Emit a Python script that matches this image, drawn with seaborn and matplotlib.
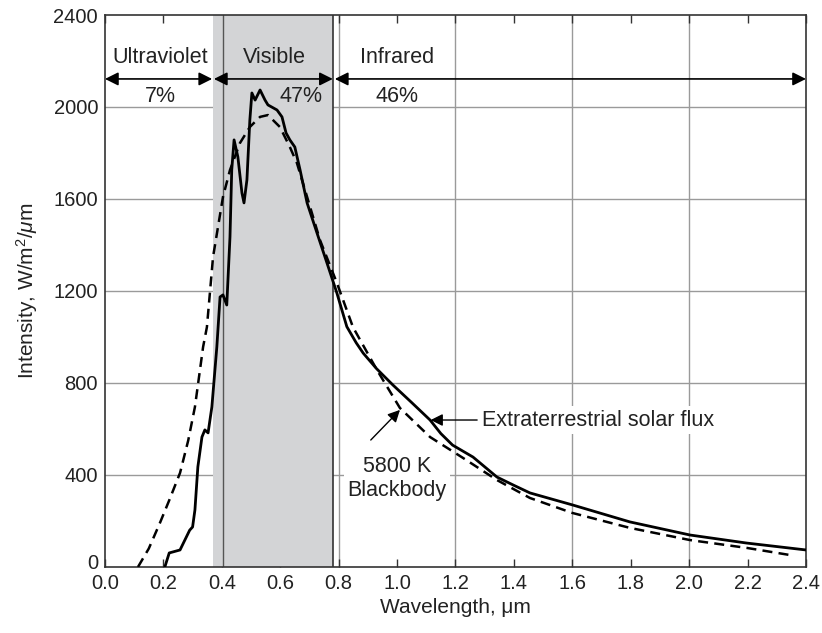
import numpy as np
import pandas as pd
import seaborn as sns
import matplotlib.pyplot as plt
import matplotlib.transforms as mtransforms

# extraterrestrial solar flux
solar_wl = [0.205, 0.22, 0.257, 0.29, 0.30, 0.308, 0.318, 0.332, 0.342, 0.353, 0.366,
            0.383, 0.394, 0.404, 0.417, 0.428, 0.434, 0.442, 0.455, 0.469, 0.476, 0.486,
            0.496, 0.503, 0.514, 0.531, 0.548, 0.558, 0.589, 0.606, 0.62, 0.633, 0.65,
            0.668, 0.692, 0.726, 0.76, 0.794, 0.828, 0.86, 0.884, 0.93, 0.986, 1.05, 1.113,
            1.15, 1.19, 1.26, 1.342, 1.40, 1.455, 1.60, 1.797, 2.003, 2.197, 2.40]
solar_flux = [0, 61, 74, 160, 174, 248, 435, 565, 596, 583, 696,
              957, 1174, 1183, 1139, 1435, 1726, 1857, 1783, 1626, 1583, 1683,
              1943, 2061, 2030, 2074, 2030, 2009, 1987, 1957, 1887, 1857, 1826,
              1726, 1583, 1452, 1322, 1191, 1045, 975, 930, 862, 791, 715, 639,
              580, 530, 478, 391, 355, 322, 270, 196, 139, 104, 74]

# 5800 K blackbody
bb_wl = [0.113, 0.15, 0.188, 0.22, 0.257, 0.285, 0.308, 0.336, 0.349, 0.37, 0.404,
         0.428, 0.462, 0.496, 0.531, 0.558, 0.599, 0.633, 0.657, 0.692, 0.736, 0.794,
         0.849, 0.931, 1.01, 1.113, 1.226, 1.342, 1.455, 1.60, 1.797, 2.003, 2.197, 2.345]
bb_flux = [0, 80, 191, 290, 409, 550, 696, 957, 1043, 1348, 1609,
           1726, 1843, 1913, 1957, 1965, 1913, 1826, 1757, 1609, 1422, 1235,
           1043, 857, 691, 565, 474, 378, 300, 235, 170, 117, 83, 52]

# spectral regions
region_names = ['Ultraviolet', 'Visible', 'Infrared']
region_share = ['7%', '47%', '46%']
region_start = [0.0, 0.373, 0.787]
region_end = [0.367, 0.78, 2.4]

solar = pd.DataFrame({'Wavelength': solar_wl, 'Intensity': solar_flux})
bb = pd.DataFrame({'Wavelength': bb_wl, 'Intensity': bb_flux})

sns.set_theme(style="white")
plt.rcParams['font.family'] = ['Liberation Sans', 'DejaVu Sans']
plt.rcParams['mathtext.fontset'] = 'custom'
plt.rcParams['mathtext.rm'] = 'Liberation Sans'
plt.rcParams['mathtext.it'] = 'Liberation Sans:italic'

fig = plt.figure(figsize=(8.22, 6.33), dpi=100)
ax = fig.add_axes([0.1277, 0.1043, 0.8528, 0.872])

# grid
for xv in [0.4, 0.8, 1.2, 1.6, 2.0]:
    ax.axvline(xv, color='#9a9a9a', lw=1.0, zorder=0)
for yv in [400, 800, 1200, 1600, 2000]:
    ax.axhline(yv, color='#9a9a9a', lw=1.0, zorder=0)

# visible band
ax.axvspan(0.37, 0.78, color='#d3d4d6', lw=0, zorder=1)
ax.axvline(0.403, color='#555555', lw=1.0, zorder=1.5)
ax.axvline(0.78, color='#333333', lw=1.2, zorder=1.5)

sns.lineplot(data=bb, x='Wavelength', y='Intensity', ax=ax, color='black',
             lw=1.8, linestyle=(0, (4, 2.5)), estimator=None, sort=False, zorder=3)
sns.lineplot(data=solar, x='Wavelength', y='Intensity', ax=ax, color='black',
             lw=2.0, estimator=None, sort=False, zorder=4)

ax.set_xlim(0, 2.4)
ax.set_ylim(0, 2400)
ax.set_xticks(np.arange(0, 2.41, 0.2))
ax.set_xticklabels([f'{v:.1f}' for v in np.arange(0, 2.41, 0.2)])
ax.set_yticks(np.arange(0, 2401, 400))
ax.tick_params(axis='x', direction='in', top=True, bottom=True, length=6,
               width=1, color='#333333', labelsize=14.5, pad=5, labelcolor='#222222')
ax.tick_params(axis='y', length=0, labelsize=14.5, pad=5, labelcolor='#222222')
for s in ax.spines.values():
    s.set_color('#333333')
    s.set_linewidth(1.2)

# lift the "0" on the y axis a little so it clears the "0.0" below it
zero_lbl = ax.get_yticklabels()[0]
zero_lbl.set_transform(zero_lbl.get_transform() +
                       mtransforms.ScaledTranslation(0, 4 / 72, fig.dpi_scale_trans))

ax.set_xlabel('Wavelength, μm', fontsize=15, color='#222222', labelpad=4)
ax.set_ylabel('Intensity, W/m$^2$/$\\mathit{\\mu}$m', fontsize=15, color='#222222',
              labelpad=10)

# region arrows and labels
arrow_y = 2122
label_x = [0.19, 0.58, 1.0]
share_x = [0.19, 0.67, 1.0]
for name, share, x0, x1, lx, sx in zip(region_names, region_share, region_start,
                                        region_end, label_x, share_x):
    ax.annotate('', xy=(x1, arrow_y), xytext=(x0, arrow_y),
                arrowprops=dict(arrowstyle='<|-|>', color='black', lw=1.2,
                                mutation_scale=20, shrinkA=0, shrinkB=0), zorder=5)
    ax.text(lx, 2215, name, ha='center', va='center', fontsize=15.5, color='#222222')
    ax.text(sx, 2045, share, ha='center', va='center', fontsize=15.5, color='#222222')

# curve annotations
ax.annotate('Extraterrestrial solar flux', xy=(1.115, 639), xytext=(1.29, 639),
            fontsize=15.5, color='#222222', va='center', ha='left',
            bbox=dict(boxstyle='square,pad=0.15', fc='white', ec='none'),
            arrowprops=dict(arrowstyle='-|>', color='black', lw=1.0,
                            mutation_scale=18, shrinkA=1, shrinkB=0), zorder=6)
ax.annotate('', xy=(1.01, 683), xytext=(0.91, 552),
            arrowprops=dict(arrowstyle='-|>', color='black', lw=1.0,
                            mutation_scale=18, shrinkA=0, shrinkB=0), zorder=6)
ax.text(1.0, 385, '5800 K\nBlackbody', ha='center', va='center', fontsize=15.5,
        color='#222222', linespacing=1.2,
        bbox=dict(boxstyle='square,pad=0.15', fc='white', ec='none'), zorder=6)

plt.savefig('out.png', dpi=100)
